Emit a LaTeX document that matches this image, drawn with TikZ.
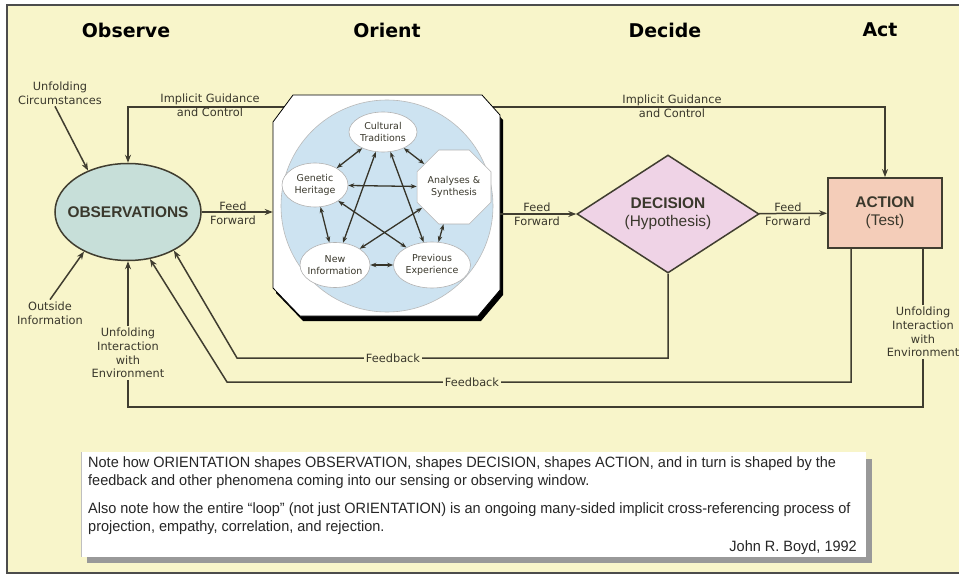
\documentclass[tikz,border=0pt]{standalone}
\usepackage{fontspec}
\setmainfont{DejaVu Sans}
\newfontfamily\arialf{Liberation Sans}
\newfontfamily\notef[FakeStretch=0.97]{Liberation Sans}
\usetikzlibrary{shapes.geometric,arrows.meta}
\definecolor{bg}{HTML}{F8F5CA}
\definecolor{ln}{HTML}{403D30}
\definecolor{txt}{HTML}{3A382C}
\definecolor{obsfill}{HTML}{C7DFD9}
\definecolor{decfill}{HTML}{EFD3E6}
\definecolor{actfill}{HTML}{F4CDB9}
\definecolor{orblue}{HTML}{CDE3F1}
\begin{document}
\begin{tikzpicture}[x=1bp,y=-1bp,
  conn/.style={draw=ln,line width=1.5bp},
  arr/.style={conn,-{Stealth[length=8bp,width=6bp]}},
  biarr/.style={draw=ln!85!black,line width=1.3bp,{Stealth[length=6bp,width=4.5bp]}-{Stealth[length=6bp,width=4.5bp]}},
  lab/.style={font=\fontsize{11.4}{13.6}\selectfont,text=txt,align=center,inner sep=2bp},
  ttl/.style={font=\bfseries\fontsize{19}{22}\selectfont,text=black},
  big/.style={font=\arialf\fontsize{15.5}{18}\selectfont,text=txt,align=center,inner sep=0},
  inlab/.style={font=\fontsize{9.5}{11.5}\selectfont,text=txt,align=center,inner sep=0},
  inell/.style={ellipse,draw=gray!60,fill=white,line width=0.6bp,inner sep=0},
  notetxt/.style={font=\notef\fontsize{15}{19}\selectfont,text=black!85,align=left,inner sep=0},
]
\useasboundingbox (0,0) rectangle (959,581);
\fill[white] (0,0) rectangle (959,581);
\fill[bg] (7,5) rectangle (966,573);
\draw[black!70,line width=2bp] (7,5) rectangle (966,573);

% titles
\node[ttl] (tO) at (126,30) {Observe};
\node[ttl] (tR) at (387,30) {Orient};
\node[ttl] (tD) at (665,30) {Decide};
\node[ttl] (tA) at (880,30) {Act};

% main nodes
\node[ellipse,draw=ln,line width=1.5bp,fill=obsfill,minimum width=146bp,minimum height=97bp,inner sep=0] (obs) at (128,212) {};
\node[big] (obsT) at (obs) {\bfseries OBSERVATIONS};
\node[diamond,draw=ln,line width=1.5bp,fill=decfill,minimum width=182bp,minimum height=118bp,inner sep=0] (dec) at (668,214) {};
\node[big] (decT) at (dec) {\bfseries DECISION\\(Hypothesis)};
\node[rectangle,draw=ln,line width=1.8bp,fill=actfill,minimum width=114bp,minimum height=70bp,inner sep=0] (act) at (885,213) {};
\node[big] (actT) at (act) {\bfseries ACTION\\(Test)};

% orient frame (invisible node for connectors)
\node[minimum width=227bp,minimum height=221bp,inner sep=0] (orient) at (386.5,205.5) {};

% implicit guidance lines (drawn under the orient box)
\coordinate (gl) at (300,107);
\coordinate (gr) at (480,107);
\draw[arr] (gl) -| (obs.north);
\draw[arr] (gr) -| (act.north);
\node[lab] (ig1) at (210,105) {Implicit Guidance\\and Control};
\node[lab] (ig2) at (672,106) {Implicit Guidance\\and Control};

% orient box
\fill[black,shift={(3,5)}] (293,95) -- (482,95) -- (500,115) -- (500,290) -- (478,316) -- (300,316) -- (273,288) -- (273,122) -- cycle;
\filldraw[fill=white,draw=black,line width=0.8bp] (293,95) -- (482,95) -- (500,115) -- (500,290) -- (478,316) -- (300,316) -- (273,288) -- (273,122) -- cycle;
\filldraw[fill=orblue,draw=gray!55,line width=0.6bp] (387,206) circle (106);

% inner nodes
\node[inell,minimum width=68bp,minimum height=40bp] (ct) at (383,132) {};
\node[inell,minimum width=66bp,minimum height=44bp] (gh) at (315,185) {};
\node[regular polygon,regular polygon sides=8,draw=gray!60,fill=white,line width=0.6bp,minimum size=80bp,inner sep=0] (an) at (454,187) {};
\node[inell,minimum width=70bp,minimum height=45bp] (ni) at (335,265) {};
\node[inell,minimum width=77bp,minimum height=46bp] (pe) at (432,265) {};
\node[inlab] at (ct) {Cultural\\Traditions};
\node[inlab] at (gh) {Genetic\\Heritage};
\node[inlab] at (an) {Analyses \&\\Synthesis};
\node[inlab] at (ni) {New\\Information};
\node[inlab] at (pe) {Previous\\Experience};
\draw[biarr] (ct) -- (gh);
\draw[biarr] (ct) -- (an);
\draw[biarr] (ct) -- (ni);
\draw[biarr] (ct) -- (pe);
\draw[biarr] (gh) -- (an);
\draw[biarr] (gh) -- (ni);
\draw[biarr] (gh) -- (pe);
\draw[biarr] (an) -- (ni);
\draw[biarr] (an) -- (pe);
\draw[biarr] (ni) -- (pe);

% feed forward
\draw[arr] (obs) -- (obs -| orient.west);
\draw[arr] (orient.east |- dec) -- (dec);
\draw[arr] (dec) -- (act);
\node[lab] (ff1) at (233,213) {Feed\\Forward};
\node[lab] (ff2) at (537,214) {Feed\\Forward};
\node[lab] (ff3) at (788,214) {Feed\\Forward};

% outside inputs
\node[lab] (uc) at (60,93) {Unfolding\\Circumstances};
\draw[arr] ([xshift=-5bp]uc.south) -- (obs.134);
\node[lab] (oi) at (50,313) {Outside\\Information};
\draw[arr] (oi.north) -- (obs.-138);

% feedback loops
\coordinate (fb1) at (237,358);
\coordinate (fb2) at (227,382);
\draw[arr] (dec.south) |- (fb1) -- (obs.-40);
\draw[arr] ([xshift=24bp]act.south west) |- (fb2) -- (obs.-65);
\node[lab,fill=bg,inner sep=1.5bp] (fbl1) at (393,358) {Feedback};
\node[lab,fill=bg,inner sep=1.5bp] (fbl2) at (472,382) {Feedback};

% unfolding interaction with environment
\node[lab] (luie) at (128,353) {Unfolding\\Interaction\\with\\Environment};
\node[lab] (ruie) at (923,332) {Unfolding\\Interaction\\with\\Environment};
\coordinate (bl) at (128,407);
\draw[conn] (ruie.north |- act.south) -- (ruie.north);
\draw[conn] (ruie.south) |- (bl) -- (luie.south);
\draw[arr] (luie.north) -- (obs.south);

% note box
\fill[black!40] (87,459) rectangle (872,563);
\fill[white] (81,452) rectangle (866,557);
\draw[black!25,line width=0.8bp] (81,452) -- (81,557);
\node[notetxt,anchor=north west] (n1) at (88,456) {Note how ORIENTATION shapes OBSERVATION, shapes DECISION, shapes ACTION, and in turn is shaped by the\\feedback and other phenomena coming into our sensing or observing window.};
\node[notetxt,anchor=north west] (n2) at (88,502) {Also note how the entire “loop” (not just ORIENTATION) is an ongoing many-sided implicit cross-referencing process of\\projection, empathy, correlation, and rejection.};
\node[notetxt,anchor=north east] (n3) at (857,540) {John R. Boyd, 1992};
\end{tikzpicture}
\end{document}
